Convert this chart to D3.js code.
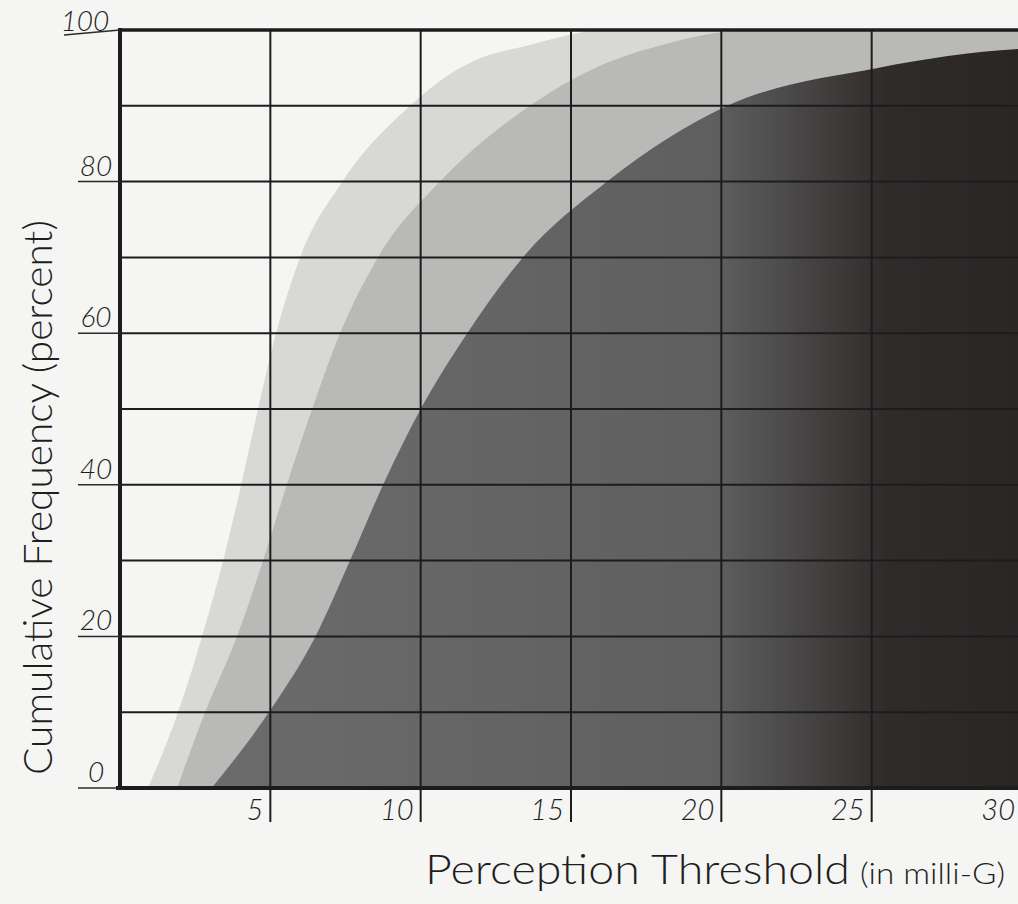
<!DOCTYPE html>
<html>
<head>
<meta charset="utf-8">
<script src="https://cdn.jsdelivr.net/npm/d3@7"></script>
<style>
  html, body { margin: 0; padding: 0; background: #f5f5f3; }
  svg { display: block; }
  .lbl { font-family: Lato, "Open Sans", sans-serif; font-weight: 300; fill: #1e1e1e; }
</style>
</head>
<body>
<svg id="chart" width="1018" height="904"></svg>
<script>
// three cumulative curves, x = milli-G, y = percent
const lightX = [0.93, 1.93, 2.73, 3.43, 4.03, 4.59, 5.19, 5.99, 7.4, 9.65, 10.9, 12.0, 13.6, 14.9, 16.0, 30.5]
const lightY = [0, 10, 20, 30, 40, 50, 60, 70, 80, 90, 94, 96.3, 98, 99.3, 100, 100]

const mediumX = [1.9, 2.83, 3.89, 4.76, 5.55, 6.39, 7.32, 8.58, 10.64, 13.63, 15.8, 18.0, 21.0, 30.5]
const mediumY = [0, 10, 20, 30, 40, 50, 60, 70, 80, 90, 95, 98, 100, 100]

const darkX = [3.05, 4.95, 6.5, 7.65, 8.75, 10.0, 11.55, 13.4, 16.2, 20.2, 25.2, 29.9, 30.5]
const darkY = [0, 10, 20, 30, 40, 50, 60, 70, 80, 90, 95, 97.5, 97.6]

const xTicks = [5, 10, 15, 20, 25, 30]
const yGrid = [10, 20, 30, 40, 50, 60, 70, 80, 90]
const yLabels = [0, 20, 40, 60, 80, 100]

const svg = d3.select('#chart')

const x = d3.scaleLinear().domain([0, 30]).range([120, 1022])
const y = d3.scaleLinear().domain([0, 100]).range([788, 30])

// the dark band gets blacker toward the right edge
const defs = svg.append('defs')
const grad = defs.append('linearGradient')
  .attr('id', 'darkGrad')
  .attr('gradientUnits', 'userSpaceOnUse')
  .attr('x1', x(0)).attr('x2', x(30)).attr('y1', 0).attr('y2', 0)
grad.append('stop').attr('offset', '0%').attr('stop-color', '#6e6e6e')
grad.append('stop').attr('offset', '66%').attr('stop-color', '#5f5f5f')
grad.append('stop').attr('offset', '85%').attr('stop-color', '#302b2b')
grad.append('stop').attr('offset', '100%').attr('stop-color', '#2b2626')

const toPoints = (xs, ys) => xs.map((v, i) => ({ x: v, y: ys[i] }))

const area = d3.area()
  .x((d) => x(d.x))
  .y0(y(0))
  .y1((d) => y(d.y))
  .curve(d3.curveMonotoneX)

const plot = svg.append('g')
plot.append('path').datum(toPoints(lightX, lightY)).attr('d', area).attr('fill', '#d8d8d6')
plot.append('path').datum(toPoints(mediumX, mediumY)).attr('d', area).attr('fill', '#b9b9b7')
plot.append('path').datum(toPoints(darkX, darkY)).attr('d', area).attr('fill', 'url(#darkGrad)')

// grid
const grid = svg.append('g').attr('stroke', '#1c1c1c')
grid.selectAll('line.h')
  .data(yGrid)
  .join('line')
  .attr('class', 'h')
  .attr('x1', x(0)).attr('x2', 1018)
  .attr('y1', (d) => y(d)).attr('y2', (d) => y(d))
  .attr('stroke-width', 2)

grid.selectAll('line.v')
  .data(xTicks)
  .join('line')
  .attr('class', 'v')
  .attr('x1', (d) => x(d)).attr('x2', (d) => x(d))
  .attr('y1', y(100)).attr('y2', y(0) + 34)
  .attr('stroke-width', 2)

// frame
grid.append('line').attr('x1', x(0)).attr('x2', x(0)).attr('y1', y(100) - 2).attr('y2', y(0) + 2).attr('stroke-width', 4)
grid.append('line').attr('x1', x(0)).attr('x2', 1018).attr('y1', y(100)).attr('y2', y(100)).attr('stroke-width', 3.5)
grid.append('line').attr('x1', x(0) - 4).attr('x2', 1018).attr('y1', y(0)).attr('y2', y(0)).attr('stroke-width', 4)

// y labels with underline strokes
const yl = svg.append('g')
yl.selectAll('line')
  .data(yLabels)
  .join('line')
  .attr('x1', (d) => (d === 100 ? 64 : 78)).attr('x2', x(0))
  .attr('y1', (d) => y(d) + (d === 100 ? 5 : 0)).attr('y2', (d) => y(d))
  .attr('stroke', '#2a2a2a').attr('stroke-width', 1.5)

yl.selectAll('text')
  .data(yLabels)
  .join('text')
  .attr('class', 'lbl')
  .attr('x', (d) => (d === 100 ? 85 : 96))
  .attr('y', (d) => y(d) - (d === 100 ? -1 : 6))
  .attr('text-anchor', 'middle')
  .attr('font-size', 28)
  .attr('font-style', 'italic')
  .text((d) => d)

// x labels sit left of their tick
svg.append('g').selectAll('text')
  .data(xTicks)
  .join('text')
  .attr('class', 'lbl')
  .attr('x', (d) => x(d) - 7)
  .attr('y', y(0) + 32)
  .attr('text-anchor', 'end')
  .attr('font-size', 29)
  .attr('font-style', 'italic')
  .text((d) => d)

// titles
svg.append('text')
  .attr('class', 'lbl')
  .attr('x', 425)
  .attr('y', 884)
  .attr('font-size', 42)
  .attr('textLength', 425)
  .attr('lengthAdjust', 'spacingAndGlyphs')
  .text('Perception Threshold')

svg.append('text')
  .attr('class', 'lbl')
  .attr('x', 860)
  .attr('y', 884)
  .attr('font-size', 30)
  .attr('textLength', 145)
  .attr('lengthAdjust', 'spacingAndGlyphs')
  .text('(in milli-G)')

svg.append('text')
  .attr('class', 'lbl')
  .attr('transform', 'translate(52,775) rotate(-90)')
  .attr('font-size', 40)
  .attr('textLength', 555)
  .attr('lengthAdjust', 'spacingAndGlyphs')
  .text('Cumulative Frequency (percent)')
</script>
</body>
</html>
